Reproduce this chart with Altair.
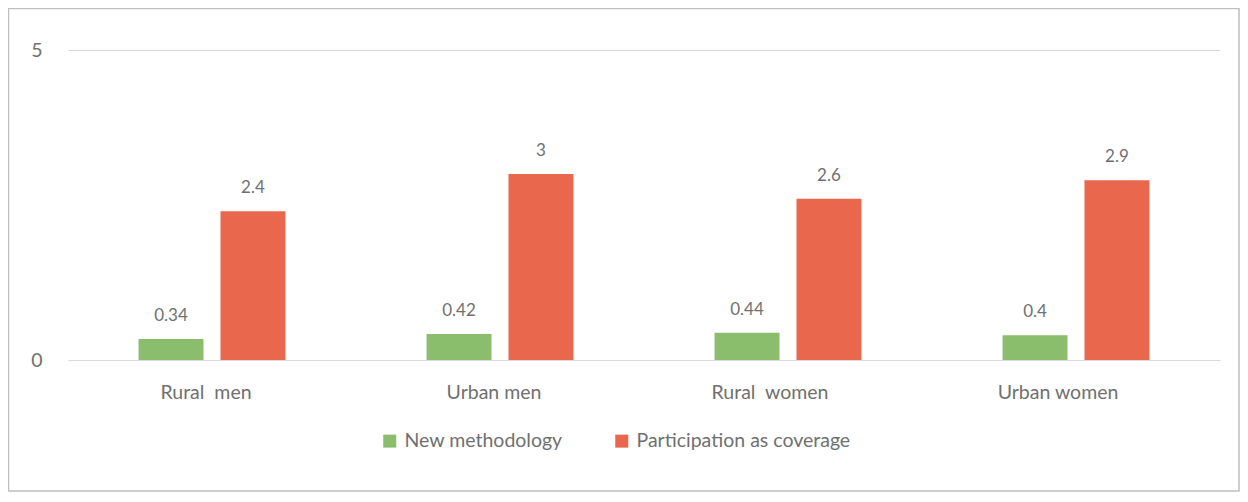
import altair as alt
import pandas as pd

categories = ["Rural\u00a0 men", "Urban men", "Rural\u00a0 women", "Urban women"]
series = ["New methodology", "Participation as coverage"]
new_methodology = [0.34, 0.42, 0.44, 0.4]
participation = [2.4, 3, 2.6, 2.9]
colors = ["#8ABD6C", "#E8674D"]

rows = []
for i, c in enumerate(categories):
    rows.append({"cat": c, "series": series[0], "value": new_methodology[i], "label": f"{new_methodology[i]:g}"})
    rows.append({"cat": c, "series": series[1], "value": participation[i], "label": f"{participation[i]:g}"})
df = pd.DataFrame(rows)

FONT = "Lato"
TXT = "#707070"

x = alt.X("cat:N", sort=categories, title=None,
          scale=alt.Scale(paddingInner=0.49, paddingOuter=0.245),
          axis=alt.Axis(labelAngle=0, ticks=False, domain=False, labelPadding=23,
                        labelOffset={"condition": {"test": "indexof(datum.label, 'women') >= 0", "value": -18},
                                     "value": -6},
                        labelFont=FONT, labelFontSize=19.5, labelColor=TXT))
xo = alt.XOffset("series:N", sort=series,
                 scale=alt.Scale(paddingInner=0.207, paddingOuter=0))
y = alt.Y("value:Q", title=None,
          scale=alt.Scale(domain=[0, 5], nice=False),
          axis=alt.Axis(values=[0, 5], ticks=False, domain=False, labelPadding=26,
                        labelFont=FONT, labelFontSize=19.5, labelColor=TXT,
                        gridColor="#D9D9D9", gridWidth=1))

base = alt.Chart(df)

bars = base.mark_bar().encode(
    x=x, xOffset=xo, y=y,
    color=alt.Color("series:N", sort=series,
                    scale=alt.Scale(domain=series, range=colors),
                    legend=alt.Legend(title=None, orient="none", legendX=312, legendY=381,
                                      direction="horizontal", columns=2, columnPadding=49,
                                      symbolType="square", symbolSize=169, symbolStrokeWidth=0,
                                      labelFont=FONT, labelFontSize=19.5, labelColor=TXT,
                                      labelOffset=5, labelLimit=400)),
)

labels = base.mark_text(dy=-23, font=FONT, fontSize=17, color=TXT).encode(
    x=x, xOffset=xo, y=y, text="label:N"
)

border = alt.Chart(pd.DataFrame({"a": [0]})).mark_rect(
    fill="transparent", stroke="#BFBFBF", strokeWidth=1.5
).encode(
    x=alt.value(-59.5), x2=alt.value(1171), y=alt.value(-41.5), y2=alt.value(441)
)

chart = alt.layer(bars, labels, border).properties(
    width=1152, height=310,
    background="white",
    padding={"left": 60, "top": 42, "right": 20, "bottom": 132},
    autosize=alt.AutoSizeParams(type="none"),
).configure_view(stroke="transparent", strokeWidth=0)

chart.save("out.html", embed_options={"renderer": "svg", "actions": False})
